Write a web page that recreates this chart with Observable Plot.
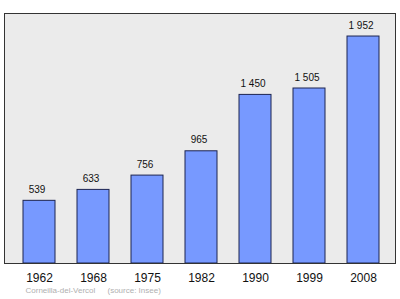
<!DOCTYPE html>
<html>
<head>
<meta charset="utf-8">
<script src="https://cdn.jsdelivr.net/npm/d3@7"></script>
<script src="https://cdn.jsdelivr.net/npm/@observablehq/plot@0.6"></script>
<style>
  html, body { margin: 0; padding: 0; background: #fff; }
  #chart svg { display: block; }
</style>
</head>
<body>
<div id="chart"></div>
<script>
const years = ["1962", "1968", "1975", "1982", "1990", "1999", "2008"];
const population = [539, 633, 756, 965, 1450, 1505, 1952];
const valueLabels = ["539", "633", "756", "965", "1 450", "1 505", "1 952"];
const commune = "Corneilla-del-Vercol";
const source = "(source: Insee)";

const data = years.map((y, i) => ({year: y, pop: population[i], label: valueLabels[i]}));

const chart = Plot.plot({
  width: 400,
  height: 299,
  marginLeft: 4,
  marginRight: 5,
  marginTop: 13,
  marginBottom: 36,
  style: {fontFamily: "'Liberation Sans', Arial, sans-serif", background: "#fff"},
  x: {domain: years, paddingInner: 0.415, paddingOuter: 0.281, align: 0.55, label: null},
  y: {domain: [0, 2150], axis: null},
  marks: [
    Plot.frame({fill: "#ebebeb", stroke: "none"}),
    Plot.barY(data, {x: "year", y: "pop", fill: "#7799ff", stroke: "#1c2450", strokeWidth: 1}),
    Plot.text(data, {x: "year", y: "pop", text: "label", dy: -8, dx: -2.5, lineAnchor: "bottom", fontSize: 10, fill: "#111"}),
    Plot.frame({stroke: "#333", strokeWidth: 1}),
    Plot.axisX({tickSize: 0, tickPadding: 10, fontSize: 12, fill: "#111", label: null}),
    Plot.text([commune], {frameAnchor: "bottom-left", dx: 21, dy: 29, lineAnchor: "bottom", textAnchor: "start", fontSize: 8, fill: "#b0b0b0", text: d => d}),
    Plot.text([source], {frameAnchor: "bottom-left", dx: 103, dy: 29, lineAnchor: "bottom", textAnchor: "start", fontSize: 8, fill: "#b0b0b0", text: d => d})
  ]
});
document.getElementById("chart").appendChild(chart);
</script>
</body>
</html>
